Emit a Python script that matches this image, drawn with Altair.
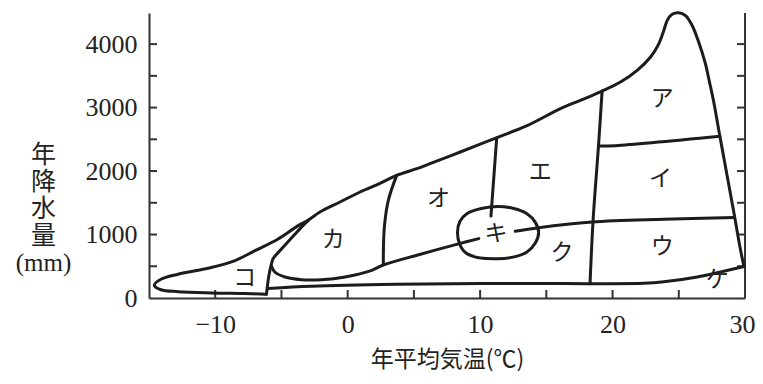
import altair as alt
import pandas as pd

# ---- data (temperature degC, precipitation mm) ----
outer_x = [-6.13, -7.8, -10.3, -12.8, -14.1, -14.6, -14.1, -12.8, -10.3, -8.5, -7.0, -5.25, -3.74,
           -3.0, -2.09, -0.58, 0.93, 2.44, 3.7, 5.22, 6.22, 8.5, 11.27, 13.5, 16.07, 17.57, 19.21,
           20.6, 21.86, 22.87, 23.5, 23.87, 24.13, 24.5, 25.0, 25.51, 26.02, 26.52, 27.0, 27.3,
           27.6, 28.07, 28.53, 29.2, 29.62, 29.92]
outer_y = [60, 70, 80, 100, 130, 200, 295, 375, 480, 590, 745, 930, 1140,
           1225, 1355, 1512, 1670, 1805, 1932, 2038, 2117, 2300, 2526, 2710, 2983, 3114, 3260,
           3402, 3586, 3796, 4007, 4216, 4374, 4470, 4495, 4450, 4290, 4020, 3700, 3420,
           3130, 2589, 2063, 1300, 803, 495]

bottom_x = [29.92, 28.16, 26.4, 23.87, 22.36, 18.3, 14.0, 10.0, 3.6, -2.7, -6.0]
bottom_y = [495, 410, 331, 255, 232, 226, 228, 228, 215, 185, 150]

ko_ka_x = [-6.13, -5.95, -5.75, -5.63, -5.37, -4.74, -3.99, -3.36, -2.98]
ko_ka_y = [60, 350, 541, 620, 688, 830, 1003, 1145, 1220]

ka_low_x = [-5.75, -5.5, -4.74, -3.48, -1.97, -0.2, 1.82, 2.69, 5.5, 8.5, 9.9]
ka_low_y = [500, 410, 331, 289, 289, 331, 436, 520, 690, 860, 935]

ku_u_x = [12.65, 14.42, 18.45, 23.87, 29.2]
ku_u_y = [1050, 1108, 1197, 1240, 1268]

ka_o_x = [3.7, 3.07, 2.77, 2.69]
ka_o_y = [1932, 1539, 1118, 530]

o_e_x = [11.25, 10.82]
o_e_y = [2515, 1290]

mid_x = [19.21, 18.95, 18.53, 18.3]
mid_y = [3260, 2432, 1224, 226]

a_i_x = [18.95, 20.22, 28.1]
a_i_y = [2394, 2400, 2547]

ell_x = [8.29, 9.0, 11.35, 13.54, 14.42, 13.54, 11.35, 9.0]
ell_y = [1030, 1329, 1442, 1329, 1030, 725, 620, 699]

lab_text = ["ア", "イ", "ウ", "エ", "オ", "カ", "キ", "ク", "ケ", "コ"]
lab_x = [23.75, 23.62, 23.75, 14.55, 6.85, -1.09, 11.2, 16.19, 27.91, -7.77]
lab_y = [3140, 1880, 803, 1985, 1565, 909, 1014, 709, 279, 321]

x_ticks = [-10, -5, 0, 5, 10, 15, 20, 25]
y_ticks = [500, 1000, 1500, 2000, 2500, 3000, 3500, 4000]
x_labels = [-10, 0, 10, 20, 30]
y_labels = [0, 1000, 2000, 3000, 4000]

# ---- tables ----
segs = [("outer", outer_x, outer_y), ("bottom", bottom_x, bottom_y), ("koka", ko_ka_x, ko_ka_y),
        ("kalow", ka_low_x, ka_low_y), ("kuu", ku_u_x, ku_u_y), ("kao", ka_o_x, ka_o_y),
        ("oe", o_e_x, o_e_y), ("mid", mid_x, mid_y), ("ai", a_i_x, a_i_y)]
rows = []
for name, xs, ys in segs:
    for i, (xv, yv) in enumerate(zip(xs, ys)):
        rows.append({"seg": name, "i": i, "x": xv, "y": yv})
lines_df = pd.DataFrame(rows)
ell_df = pd.DataFrame({"x": ell_x, "y": ell_y, "i": list(range(len(ell_x)))})
lab_df = pd.DataFrame({"x": lab_x, "y": lab_y, "t": lab_text})
xt_df = pd.DataFrame({"x": x_ticks})
yt_df = pd.DataFrame({"y": y_ticks})
right_df = pd.DataFrame({"x": [30]})

W, H = 596, 285
INK = "#1c1c1c"
NUM = "Liberation Serif"
SERIF = "Liberation Serif, Noto Sans CJK JP, serif"
CJK = "Noto Sans CJK JP"

x_axis = alt.Axis(values=x_labels, format="d", ticks=False, grid=False, domainColor="#333",
                  domainWidth=2, labelFont=NUM, labelFontSize=26, labelColor="#222",
                  labelPadding=13, labelFlush=True, labelFlushOffset=10,
                  title="年平均気温(℃)", titleFont=CJK,
                  titleFontSize=23, titleFontWeight="normal", titleColor="#222",
                  titleY=61, titleBaseline="middle")
y_axis = alt.Axis(values=y_labels, format="d", ticks=False, grid=False, domainColor="#333",
                  domainWidth=2, labelFont=NUM, labelFontSize=26, labelColor="#222",
                  labelPadding=12, title=["年", "降", "水", "量", "(mm)"], titleAngle=0,
                  titleFont=SERIF, titleFontSize=25, titleFontWeight="normal", titleColor="#222",
                  titleAlign="center", titleBaseline="middle", titleX=-106, titleY=141,
                  titleLineHeight=27)

X = alt.X("x:Q", scale=alt.Scale(domain=[-15, 30], nice=False, zero=False), axis=x_axis)
Y = alt.Y("y:Q", scale=alt.Scale(domain=[0, 4490], nice=False, zero=False), axis=y_axis)

lines = alt.Chart(lines_df).mark_line(interpolate="catmull-rom", color=INK, strokeWidth=3,
                                      strokeCap="round", strokeJoin="round").encode(
    x=X, y=Y, detail="seg:N", order="i:Q")
ellipse = alt.Chart(ell_df).mark_line(interpolate="cardinal-closed", color=INK, strokeWidth=3).encode(
    x=X, y=Y, order="i:Q")
labels = alt.Chart(lab_df).mark_text(font=CJK, fontSize=23, color="#222", baseline="middle",
                                     align="center").encode(x=X, y=Y, text="t:N")
xticks = alt.Chart(xt_df).mark_rule(color="#333", strokeWidth=2).encode(
    x=X, y=alt.value(H), y2=alt.value(H - 8))
lticks = alt.Chart(yt_df).mark_rule(color="#333", strokeWidth=2).encode(
    y=Y, x=alt.value(0), x2=alt.value(8))
rticks = alt.Chart(yt_df).mark_rule(color="#333", strokeWidth=2).encode(
    y=Y, x=alt.value(W), x2=alt.value(W - 8))
raxis = alt.Chart(right_df).mark_rule(color="#333", strokeWidth=2).encode(
    x=X, y=alt.value(0), y2=alt.value(H))

chart = alt.layer(raxis, xticks, lticks, rticks, lines, ellipse, labels).properties(
    width=W, height=H,
    autosize=alt.AutoSizeParams(type="none"),
    padding={"left": 141, "top": 5, "right": 10, "bottom": 78},
    background="white",
).configure_view(stroke=None)

chart.save("out.html", embed_options={"renderer": "svg", "actions": False})
